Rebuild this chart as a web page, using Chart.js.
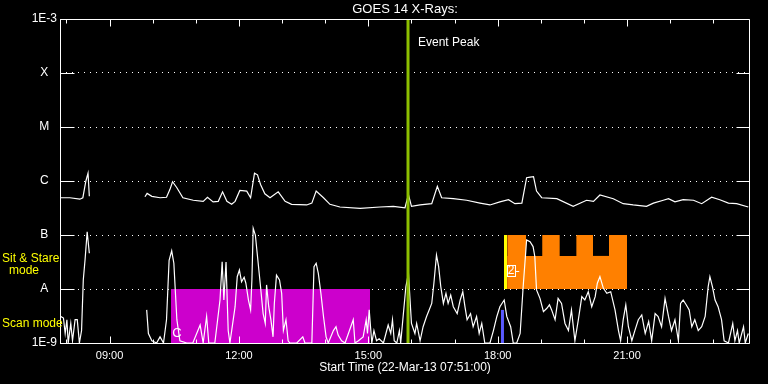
<!DOCTYPE html>
<html>
<head>
<meta charset="utf-8">
<script src="https://cdn.jsdelivr.net/npm/chart.js@4.4.0/dist/chart.umd.min.js"></script>
<style>
html, body { margin: 0; background: #000; }
canvas { display: block; }
</style>
</head>
<body>
<canvas id="goes" width="768" height="384"></canvas>
<script>
// GOES 14 x-ray flux, hours of 22-Mar-13 (decimal), flux in W/m^2
const startHour = 7.85;
const endHour = 23.85;

const yTickLabels = ['1E-9', 'A', 'B', 'C', 'M', 'X', '1E-3'];
const xTickHours = [9, 12, 15, 18, 21];
const xTickLabels = ['09:00', '12:00', '15:00', '18:00', '21:00'];

// 1-8 A channel
const longHours = [7.85, 8.08, 8.31, 8.38, 8.45, 8.50, 8.53, 9.0, 9.82, 9.87, 9.98, 10.17, 10.32, 10.40, 10.46, 10.56,
  10.70, 10.94, 11.17, 11.27, 11.40, 11.52, 11.62, 11.72, 11.83, 11.91, 12.02, 12.18, 12.27, 12.36, 12.43, 12.50,
  12.60, 12.72, 12.91, 13.07, 13.22, 13.57, 13.69, 13.79, 13.96, 14.11, 14.34, 14.81, 15.27, 15.58, 15.85, 15.93,
  16.00, 16.20, 16.47, 16.60, 16.70, 16.97, 17.28, 17.59, 17.82, 18.05, 18.25, 18.40, 18.56, 18.67, 18.75, 18.83,
  18.90, 19.02, 19.37, 19.75, 20.06, 20.22, 20.37, 20.68, 20.91, 21.14, 21.45, 21.61, 21.84, 21.96, 22.11, 22.30,
  22.54, 22.73, 22.96, 23.15, 23.35, 23.54, 23.81];
const longFlux = [4.9e-7, 4.9e-7, 4.6e-7, 4.9e-7, 1.0e-6, 1.4e-6, 5.2e-7, null, 5.1e-7, 5.9e-7, 5.2e-7, 4.9e-7, 5.0e-7, 7.0e-7, 9.7e-7, 7.5e-7,
  4.9e-7, 4.4e-7, 4.2e-7, 5.0e-7, 4.1e-7, 4.2e-7, 6.3e-7, 4.2e-7, 3.7e-7, 4.2e-7, 6.7e-7, 6.5e-7, 4.9e-7, 1.4e-6, 1.3e-6, 8.6e-7,
  5.8e-7, 4.9e-7, 6.3e-7, 4.2e-7, 3.7e-7, 3.6e-7, 3.9e-7, 6.5e-7, 4.9e-7, 3.7e-7, 3.3e-7, 3.1e-7, 3.3e-7, 3.4e-7, 3.2e-7, 5.6e-7,
  3.4e-7, 3.6e-7, 3.8e-7, 8.0e-7, 4.9e-7, 4.7e-7, 4.4e-7, 3.9e-7, 3.6e-7, 4.1e-7, 4.5e-7, 3.8e-7, 3.9e-7, 1.15e-6, 1.18e-6, 1.2e-6,
  6.5e-7, 4.9e-7, 4.7e-7, 3.4e-7, 4.4e-7, 4.2e-7, 5.5e-7, 4.7e-7, 3.8e-7, 3.6e-7, 3.4e-7, 3.9e-7, 4.4e-7, 4.7e-7, 4.1e-7, 4.5e-7,
  4.4e-7, 3.8e-7, 5.0e-7, 4.5e-7, 3.9e-7, 3.8e-7, 3.3e-7];

// 0.5-4 A channel, flux in units of 1E-9
const shortHours = [7.87, 7.93, 7.97, 8.01, 8.04, 8.10, 8.14, 8.20, 8.25, 8.30, 8.35, 8.39, 8.43, 8.48, 8.53, 9.0,
  9.86, 9.90, 9.98, 10.09, 10.17, 10.25, 10.32, 10.38, 10.44, 10.49, 10.56, 10.63, 10.79, 10.93, 11.10, 11.17,
  11.25, 11.30, 11.44, 11.56, 11.61, 11.65, 11.70, 11.75, 11.79, 11.91, 11.96, 12.01, 12.06, 12.12, 12.16, 12.22,
  12.27, 12.30, 12.33, 12.38, 12.43, 12.50, 12.56, 12.61, 12.64, 12.69, 12.74, 12.79, 12.82, 12.87, 12.94, 12.99,
  13.03, 13.09, 13.14, 13.18, 13.34, 13.48, 13.53, 13.69, 13.74, 13.79, 13.84, 13.90, 13.96, 14.02, 14.07, 14.19,
  14.25, 14.30, 14.38, 14.46, 14.65, 14.69, 14.77, 14.88, 14.95, 14.98, 15.02, 15.08, 15.13, 15.19, 15.25, 15.35,
  15.46, 15.52, 15.56, 15.60, 15.66, 15.72, 15.75, 15.87, 15.93, 16.00, 16.08, 16.12, 16.20, 16.27, 16.35, 16.41,
  16.47, 16.52, 16.58, 16.63, 16.68, 16.74, 16.80, 16.85, 16.91, 16.97, 17.06, 17.13, 17.19, 17.24, 17.29, 17.37,
  17.43, 17.51, 17.57, 17.63, 17.70, 17.82, 17.90, 17.98, 18.05, 18.15, 18.21, 18.30, 18.36, 18.44, 18.52, 18.59,
  18.67, 18.75, 18.82, 18.86, 18.90, 18.98, 19.06, 19.14, 19.20, 19.25, 19.33, 19.40, 19.48, 19.56, 19.64, 19.71,
  19.79, 19.87, 19.95, 20.02, 20.10, 20.18, 20.26, 20.31, 20.37, 20.45, 20.53, 20.62, 20.72, 20.80, 20.85, 20.91,
  20.97, 21.03, 21.11, 21.18, 21.26, 21.34, 21.42, 21.50, 21.57, 21.65, 21.72, 21.80, 21.88, 21.96, 22.03, 22.11,
  22.19, 22.24, 22.30, 22.37, 22.44, 22.50, 22.57, 22.65, 22.73, 22.81, 22.88, 22.92, 22.98, 23.04, 23.11, 23.19,
  23.25, 23.35, 23.45, 23.50, 23.56, 23.60, 23.70, 23.74, 23.81];
const shortFluxNano = [3.1, 2.9, 1.5, 2.7, 1.0, 2.3, 1.1, 2.7, 2.7, 1.0, 1.7, 14.7, 34, 115, 46, null,
  4.1, 1.5, 1.1, 1.0, 1.3, 1.0, 2.7, 34, 51, 30, 2.7, 1.1, 1.0, 1.0, 2.15, 1.0,
  3.1, 1.0, 1.0, 6.25, 32, 6.25, 31.5, 1.7, 1.0, 4.7, 16.9, 22.5, 13.6, 16.5, 12.8, 6.25,
  4.1, 14.7, 133, 100, 40, 11, 3.5, 2.3, 11.9, 4.7, 2.7, 1.3, 5.4, 18.1, 14.7, 8.3,
  1.7, 2.7, 1.1, 1.0, 1.0, 1.3, 1.0, 1.0, 25.9, 30, 19.5, 8.3, 3.1, 1.3, 1.0, 1.7,
  2.0, 1.4, 1.1, 1.0, 2.7, 1.0, 1.1, 1.3, 2.7, 1.5, 4.1, 1.0, 1.7, 1.1, 1.2, 1.0,
  2.15, 1.5, 2.7, 1.1, 1.0, 1.7, 1.0, 11, 19.5, 2.3, 1.5, 2.3, 1.1, 2.0, 3.1, 4.1,
  5.4, 12.8, 42.5, 25.9, 11, 5.4, 8.3, 5.4, 7.7, 4.7, 3.5, 6.25, 8.9, 4.7, 2.7, 3.5,
  2.0, 3.1, 1.5, 2.3, 1.0, 1.0, 1.7, 3.1, 4.7, 6.25, 3.1, 2.0, 1.0, 1.0, 1.5, 11,
  81, 75, 61, 40, 9.6, 6.7, 3.8, 4.4, 5.1, 4.1, 2.7, 6.7, 5.4, 2.3, 1.7, 4.1,
  1.1, 2.7, 7.2, 6.25, 8.9, 4.7, 7.2, 12.8, 16.9, 10.3, 8.3, 8.9, 4.1, 1.7, 1.1, 2.7,
  5.1, 2.0, 1.1, 1.7, 2.7, 3.3, 1.5, 2.5, 1.1, 3.5, 3.1, 2.0, 6.7, 3.1, 1.7, 2.7,
  1.1, 5.4, 6.25, 5.1, 4.1, 2.0, 2.7, 1.7, 2.0, 3.1, 11, 16.9, 11, 6.25, 4.7, 2.7,
  1.1, 1.0, 2.3, 1.1, 1.7, 1.0, 2.0, 1.0, 1.5];

// observing modes and markers
const scanHours = [10.42, 15.04];
const scanLevel = 1e-8;
const sitEdges = [18.22, 18.66, 19.03, 19.44, 19.82, 20.21, 20.58, 21.0];
const sitLevels = [1e-7, 4.1e-8, 1e-7, 4.1e-8, 1e-7, 4.1e-8, 1e-7];
const sitBase = 1e-8;
const eventHour = 15.92;
const stareHour = 18.18;
const blueHour = 18.11;
const blueTop = 4.1e-9;

Chart.defaults.font.family = "'Liberation Sans', Arial, sans-serif";
Chart.defaults.color = '#fff';

const longPoints = longHours.map((h, i) => ({ x: h, y: longFlux[i] }));
const shortPoints = shortHours.map((h, i) => ({ x: h, y: shortFluxNano[i] === null ? null : shortFluxNano[i] * 1e-9 }));

// sit & stare: one block under everything, then one block per interval
const sitBlock = (x0, x1, lv, order) => ({
    label: 'Sit & Stare mode',
    data: [{ x: x0, y: lv }, { x: x1, y: lv }],
    borderWidth: 0,
    borderColor: 'rgba(0,0,0,0)',
    backgroundColor: '#ff8000',
    fill: { value: sitBase },
    order: order
});
const sitSets = [sitBlock(sitEdges[0], sitEdges[sitEdges.length - 1], Math.min(...sitLevels), 4)]
    .concat(sitLevels.map((lv, i) => sitBlock(sitEdges[i], sitEdges[i + 1], lv, 3)));

const framePlugin = {
    id: 'frame',
    beforeDraw(chart) {
        const ctx = chart.ctx;
        ctx.save();
        ctx.fillStyle = '#000';
        ctx.fillRect(0, 0, chart.width, chart.height);
        ctx.restore();
    },
    afterDatasetsDraw(chart) {
        const { ctx, chartArea: a, scales: { x, y } } = chart;
        const px = v => Math.round(x.getPixelForValue(v)) + 0.5;
        const py = v => Math.round(y.getPixelForValue(v)) + 0.5;
        const L = Math.round(a.left) + 0.5, R = Math.round(a.right) - 0.5;
        const T = py(1e-3), B = py(1e-9);
        ctx.save();
        ctx.strokeStyle = '#fff';
        ctx.lineWidth = 1;
        ctx.beginPath();
        ctx.rect(L, T, R - L, B - T);
        // decade ticks on both sides
        for (let i = 0; i < yTickLabels.length; i++) {
            const yy = py(Math.pow(10, i - 9));
            ctx.moveTo(L, yy); ctx.lineTo(L + 14, yy);
            ctx.moveTo(R - 13, yy); ctx.lineTo(R, yy);
        }
        // hourly ticks top and bottom
        for (let h = Math.ceil(startHour); h <= endHour; h++) {
            const xx = px(h);
            const len = h % 3 === 0 ? 7 : 4;
            ctx.moveTo(xx, T); ctx.lineTo(xx, T + len);
            ctx.moveTo(xx, B); ctx.lineTo(xx, B - len);
        }
        ctx.stroke();

        ctx.fillStyle = '#fff';
        ctx.font = "12px 'Liberation Sans'";
        ctx.textBaseline = 'middle';
        ctx.textAlign = 'left';
        ctx.fillText('Event Peak', x.getPixelForValue(eventHour) + 10, a.top + 24);

        ctx.font = "13px 'Liberation Sans'";
        ctx.textAlign = 'center';
        ctx.fillText('C', x.getPixelForValue(scanHours[0]) + 6, y.getPixelForValue(1e-9) - 10);

        const bx = x.getPixelForValue(sitEdges[0]) + 4;
        const by = y.getPixelForValue(sitBase) - 18;
        ctx.font = "12px 'Liberation Sans'";
        ctx.fillText('2', bx, by);
        ctx.strokeRect(Math.round(bx - 4) + 0.5, Math.round(by - 6) + 0.5, 8, 11);
        ctx.beginPath();
        ctx.moveTo(bx + 4, by + 0.5); ctx.lineTo(bx + 8, by + 0.5);
        ctx.stroke();

        ctx.fillStyle = '#ffff00';
        ctx.font = "12px 'Liberation Sans'";
        ctx.textAlign = 'left';
        ctx.fillText('Sit & Stare', 2, y.getPixelForValue(sitBase) - 30);
        ctx.textAlign = 'center';
        ctx.fillText('mode', 24, y.getPixelForValue(sitBase) - 18);
        ctx.textAlign = 'left';
        ctx.fillText('Scan mode', 2, y.getPixelForValue(1e-9) - 19);
        ctx.restore();
    }
};

new Chart(document.getElementById('goes'), {
    type: 'line',
    data: {
        datasets: [{
            label: 'Event Peak',
            data: [{ x: eventHour, y: 1e-9 }, { x: eventHour, y: 1e-3 }],
            borderColor: '#8cbf00',
            borderWidth: 3,
            order: 0
        }, {
            label: 'Sit & Stare start',
            data: [{ x: stareHour, y: sitBase }, { x: stareHour, y: 1e-7 }],
            borderColor: '#ffff00',
            borderWidth: 3,
            order: 1
        }, {
            label: 'marker',
            data: [{ x: blueHour, y: 1e-9 }, { x: blueHour, y: blueTop }],
            borderColor: '#5a5aff',
            borderWidth: 3,
            order: 1
        }, {
            label: '0.5-4 A',
            data: shortPoints,
            borderColor: '#fff',
            borderWidth: 1.2,
            order: 2
        }, {
            label: '1-8 A',
            data: longPoints,
            borderColor: '#fff',
            borderWidth: 1.2,
            order: 2
        }, {
            label: 'Scan mode',
            data: scanHours.map(h => ({ x: h, y: scanLevel })),
            borderWidth: 0,
            borderColor: 'rgba(0,0,0,0)',
            backgroundColor: '#cc00cc',
            fill: 'start',
            order: 3
        }, ...sitSets]
    },
    options: {
        responsive: false,
        animation: false,
        events: [],
        elements: { point: { radius: 0 }, line: { tension: 0 } },
        layout: { padding: { left: 0, right: 18, top: 0, bottom: 0 } },
        plugins: {
            legend: { display: false },
            tooltip: { enabled: false },
            title: {
                display: true,
                text: 'GOES 14 X-Rays:',
                color: '#fff',
                fullSize: false,
                font: { size: 13, weight: 'normal' },
                padding: { top: 2, bottom: 1.4 }
            }
        },
        scales: {
            x: {
                type: 'linear',
                min: startHour,
                max: endHour,
                afterBuildTicks: s => { s.ticks = xTickHours.map(v => ({ value: v })); },
                afterFit: s => { s.height = 41; },
                ticks: {
                    color: '#fff',
                    font: { size: 11 },
                    padding: 6,
                    maxRotation: 0,
                    autoSkip: false,
                    callback: v => xTickLabels[xTickHours.indexOf(v)]
                },
                grid: { display: false, drawTicks: false },
                border: { display: false },
                title: {
                    display: true,
                    text: 'Start Time (22-Mar-13 07:51:00)',
                    color: '#fff',
                    font: { size: 12 },
                    padding: { top: 0, bottom: 9 }
                }
            },
            y: {
                type: 'logarithmic',
                min: 1e-9,
                max: 1e-3,
                afterBuildTicks: s => { s.ticks = yTickLabels.map((l, i) => ({ value: Math.pow(10, i - 9) })); },
                afterFit: s => { s.width = 60; },
                ticks: {
                    color: '#fff',
                    font: { size: 12 },
                    padding: 3,
                    crossAlign: 'center',
                    autoSkip: false,
                    callback: v => yTickLabels[Math.round(Math.log10(v)) + 9]
                },
                grid: { color: '#fff', lineWidth: 1, drawTicks: false },
                border: { display: false, dash: [1, 5] }
            }
        }
    },
    plugins: [framePlugin]
});
</script>
</body>
</html>
